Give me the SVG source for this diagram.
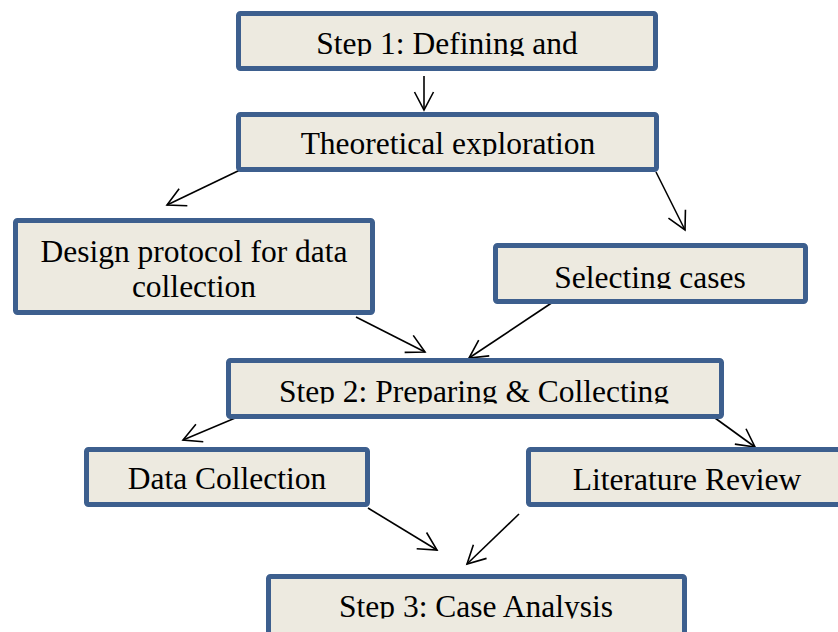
<svg xmlns="http://www.w3.org/2000/svg" width="838" height="632" viewBox="0 0 838 632">
<style>
.box{fill:#edeae0;stroke:#3d5f8e;stroke-width:5}
.t{font-family:"Liberation Serif","Times New Roman",serif;font-size:31.5px;fill:#000;text-anchor:middle}
.c{fill:none;stroke:#000;stroke-width:1.6}
</style>
<defs>
<marker id="ah" viewBox="-1 -11 22 22" markerWidth="22" markerHeight="22" markerUnits="userSpaceOnUse" refX="18" refY="0" orient="auto">
<path d="M0,-9.5 L18,0 L0,9.5" fill="none" stroke="#000" stroke-width="1.6"/>
</marker>
<clipPath id="c1"><rect x="0" y="0" width="838" height="56"/></clipPath>
<clipPath id="c2"><rect x="0" y="0" width="838" height="156"/></clipPath>
<clipPath id="c4"><rect x="0" y="0" width="838" height="289"/></clipPath>
<clipPath id="c5"><rect x="0" y="0" width="838" height="403.5"/></clipPath>
<clipPath id="c8"><rect x="0" y="0" width="838" height="618.5"/></clipPath>
</defs>
<g id="connectors">
<line class="c" x1="424" y1="76" x2="424" y2="110" marker-end="url(#ah)"/>
<line class="c" x1="240" y1="170" x2="167" y2="205" marker-end="url(#ah)"/>
<line class="c" x1="656" y1="172" x2="685" y2="230" marker-end="url(#ah)"/>
<line class="c" x1="356" y1="317" x2="425" y2="352" marker-end="url(#ah)"/>
<line class="c" x1="553" y1="302" x2="469" y2="358" marker-end="url(#ah)"/>
<line class="c" x1="240" y1="416" x2="183" y2="440" marker-end="url(#ah)"/>
<line class="c" x1="715" y1="418" x2="755" y2="447" marker-end="url(#ah)"/>
<line class="c" x1="368" y1="508" x2="437" y2="550" marker-end="url(#ah)"/>
<line class="c" x1="519" y1="514" x2="467" y2="564" marker-end="url(#ah)"/>
</g>
<g id="step1">
<rect class="box" x="238.5" y="13.5" width="417" height="55" rx="2"/>
<text class="t" x="447" y="54" clip-path="url(#c1)">Step 1: Defining and</text>
</g>
<g id="theoretical">
<rect class="box" x="238.5" y="114.5" width="418" height="55" rx="2"/>
<text class="t" x="448" y="154" clip-path="url(#c2)">Theoretical exploration</text>
</g>
<g id="design">
<rect class="box" x="15.5" y="220.5" width="357" height="92" rx="2"/>
<text class="t" x="194" y="262">Design protocol for data</text>
<text class="t" x="194" y="297">collection</text>
</g>
<g id="selecting">
<rect class="box" x="495.5" y="245.5" width="310" height="56" rx="2"/>
<text class="t" x="650" y="288" clip-path="url(#c4)">Selecting cases</text>
</g>
<g id="step2">
<rect class="box" x="228.5" y="360.5" width="493" height="56" rx="2"/>
<text class="t" x="474" y="402" clip-path="url(#c5)">Step 2: Preparing &amp; Collecting</text>
</g>
<g id="datacollection">
<rect class="box" x="86.5" y="449.5" width="281" height="55" rx="2"/>
<text class="t" x="227" y="489">Data Collection</text>
</g>
<g id="literature">
<rect class="box" x="528.5" y="449.5" width="317" height="55" rx="2"/>
<text class="t" x="687" y="490">Literature Review</text>
</g>
<g id="step3">
<rect class="box" x="268.5" y="576.5" width="416" height="60" rx="2"/>
<text class="t" x="476" y="617" clip-path="url(#c8)">Step 3: Case Analysis</text>
</g>
</svg>
